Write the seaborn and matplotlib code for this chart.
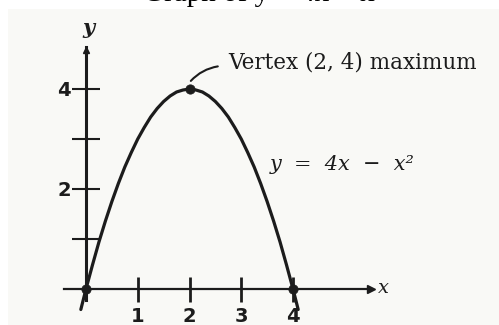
import numpy as np
import pandas as pd
import matplotlib
matplotlib.use('Agg')
import matplotlib.pyplot as plt
import seaborn as sns
from matplotlib.patches import Rectangle

# values (y = 4x - x^2)
x_vals = [-0.1, 0, 0.125, 0.25, 0.375, 0.5, 0.625, 0.75, 0.875, 1, 1.125, 1.25, 1.375, 1.5,
          1.625, 1.75, 1.875, 2, 2.125, 2.25, 2.375, 2.5, 2.625, 2.75, 2.875, 3, 3.125,
          3.25, 3.375, 3.5, 3.625, 3.75, 3.875, 4, 4.1]
y_vals = [-0.41, 0, 0.48, 0.94, 1.36, 1.75, 2.11, 2.44, 2.73, 3, 3.23, 3.44, 3.61, 3.75,
          3.86, 3.94, 3.98, 4, 3.98, 3.94, 3.86, 3.75, 3.61, 3.44, 3.23, 3, 2.73,
          2.44, 2.11, 1.75, 1.36, 0.94, 0.48, 0, -0.41]
point_x = [0, 2, 4]
point_y = [0, 4, 0]
x_ticks = [1, 2, 3, 4]
x_tick_labels = ['1', '2', '3', '4']
y_ticks = [1, 2, 3, 4]
y_tick_labels = ['', '2', '', '4']

curve = pd.DataFrame({'x': x_vals, 'y': y_vals})
points = pd.DataFrame({'x': point_x, 'y': point_y})

sns.set_style('white')
ink = '#1c1c1c'

fig = plt.figure(figsize=(4.99, 3.25), dpi=100)
# scanned paper area (behind everything)
fig.patches.append(Rectangle((8 / 499, 0), 1, 1 - 9 / 325, transform=fig.transFigure,
                             facecolor='#f9f9f6', edgecolor='none', zorder=-5))
ax = fig.add_axes([0, 0, 1, 1])
ax.set_facecolor('none')

sns.lineplot(data=curve, x='x', y='y', ax=ax, color=ink, lw=2.3, sort=False)
sns.scatterplot(data=points, x='x', y='y', ax=ax, color=ink, s=45, edgecolor=ink, zorder=5)

ax.set_xlim(-86 / 51.75, 413 / 51.75)
ax.set_ylim(-0.72, 5.78)

# axes through the origin
for side in ['top', 'right']:
    ax.spines[side].set_visible(False)
ax.spines['left'].set_position(('data', 0))
ax.spines['bottom'].set_position(('data', 0))
ax.spines['left'].set_bounds(-0.22, 4.85)
ax.spines['bottom'].set_bounds(-0.43, 5.5)
ax.spines['left'].set_linewidth(2.2)
ax.spines['bottom'].set_linewidth(1.6)
for side in ['left', 'bottom']:
    ax.spines[side].set_color(ink)
ax.plot(5.5, 0, marker='>', color=ink, ms=6, clip_on=False)
ax.plot(0, 4.78, marker='^', color=ink, ms=5, clip_on=False)

ax.set_xticks(x_ticks)
ax.set_xticklabels(x_tick_labels)
ax.set_yticks(y_ticks)
ax.set_yticklabels(y_tick_labels)
ax.tick_params(axis='x', bottom=True, direction='inout', length=18, width=2, color=ink, pad=4,
               labelsize=14, labelcolor=ink)
ax.tick_params(axis='y', left=True, direction='inout', length=20, width=1.5, color=ink, pad=1,
               labelsize=14, labelcolor=ink)
for lab in ax.get_xticklabels() + ax.get_yticklabels():
    lab.set_fontweight('bold')
ax.set_xlabel('')
ax.set_ylabel('')

ax.text(0.04, 5.22, 'y', fontsize=15, style='italic', family='DejaVu Serif',
        color=ink, ha='center', va='center', fontweight='bold')
ax.text(5.75, 0.02, 'x', fontsize=14, style='italic', family='DejaVu Serif',
        color=ink, ha='center', va='center')

ax.text(2.74, 4.52, 'Vertex (2, 4) maximum', fontsize=15.5, family='DejaVu Serif',
        color=ink, ha='left', va='center')
ax.annotate('', xy=(1.99, 4.12), xytext=(2.6, 4.46),
            arrowprops=dict(arrowstyle='-', color=ink, lw=1.5,
                            connectionstyle='arc3,rad=0.2'))
ax.text(3.56, 2.48, 'y  =  4x  −  x²', fontsize=15, style='italic',
        family='DejaVu Serif', color=ink, ha='left', va='center')

fig.text(263 / 499, 1 - 1 / 325, 'Graph of y = 4x − x²', fontsize=21,
         family='Liberation Serif', color='black', ha='center', va='baseline')

fig.savefig('out.png', dpi=100)
